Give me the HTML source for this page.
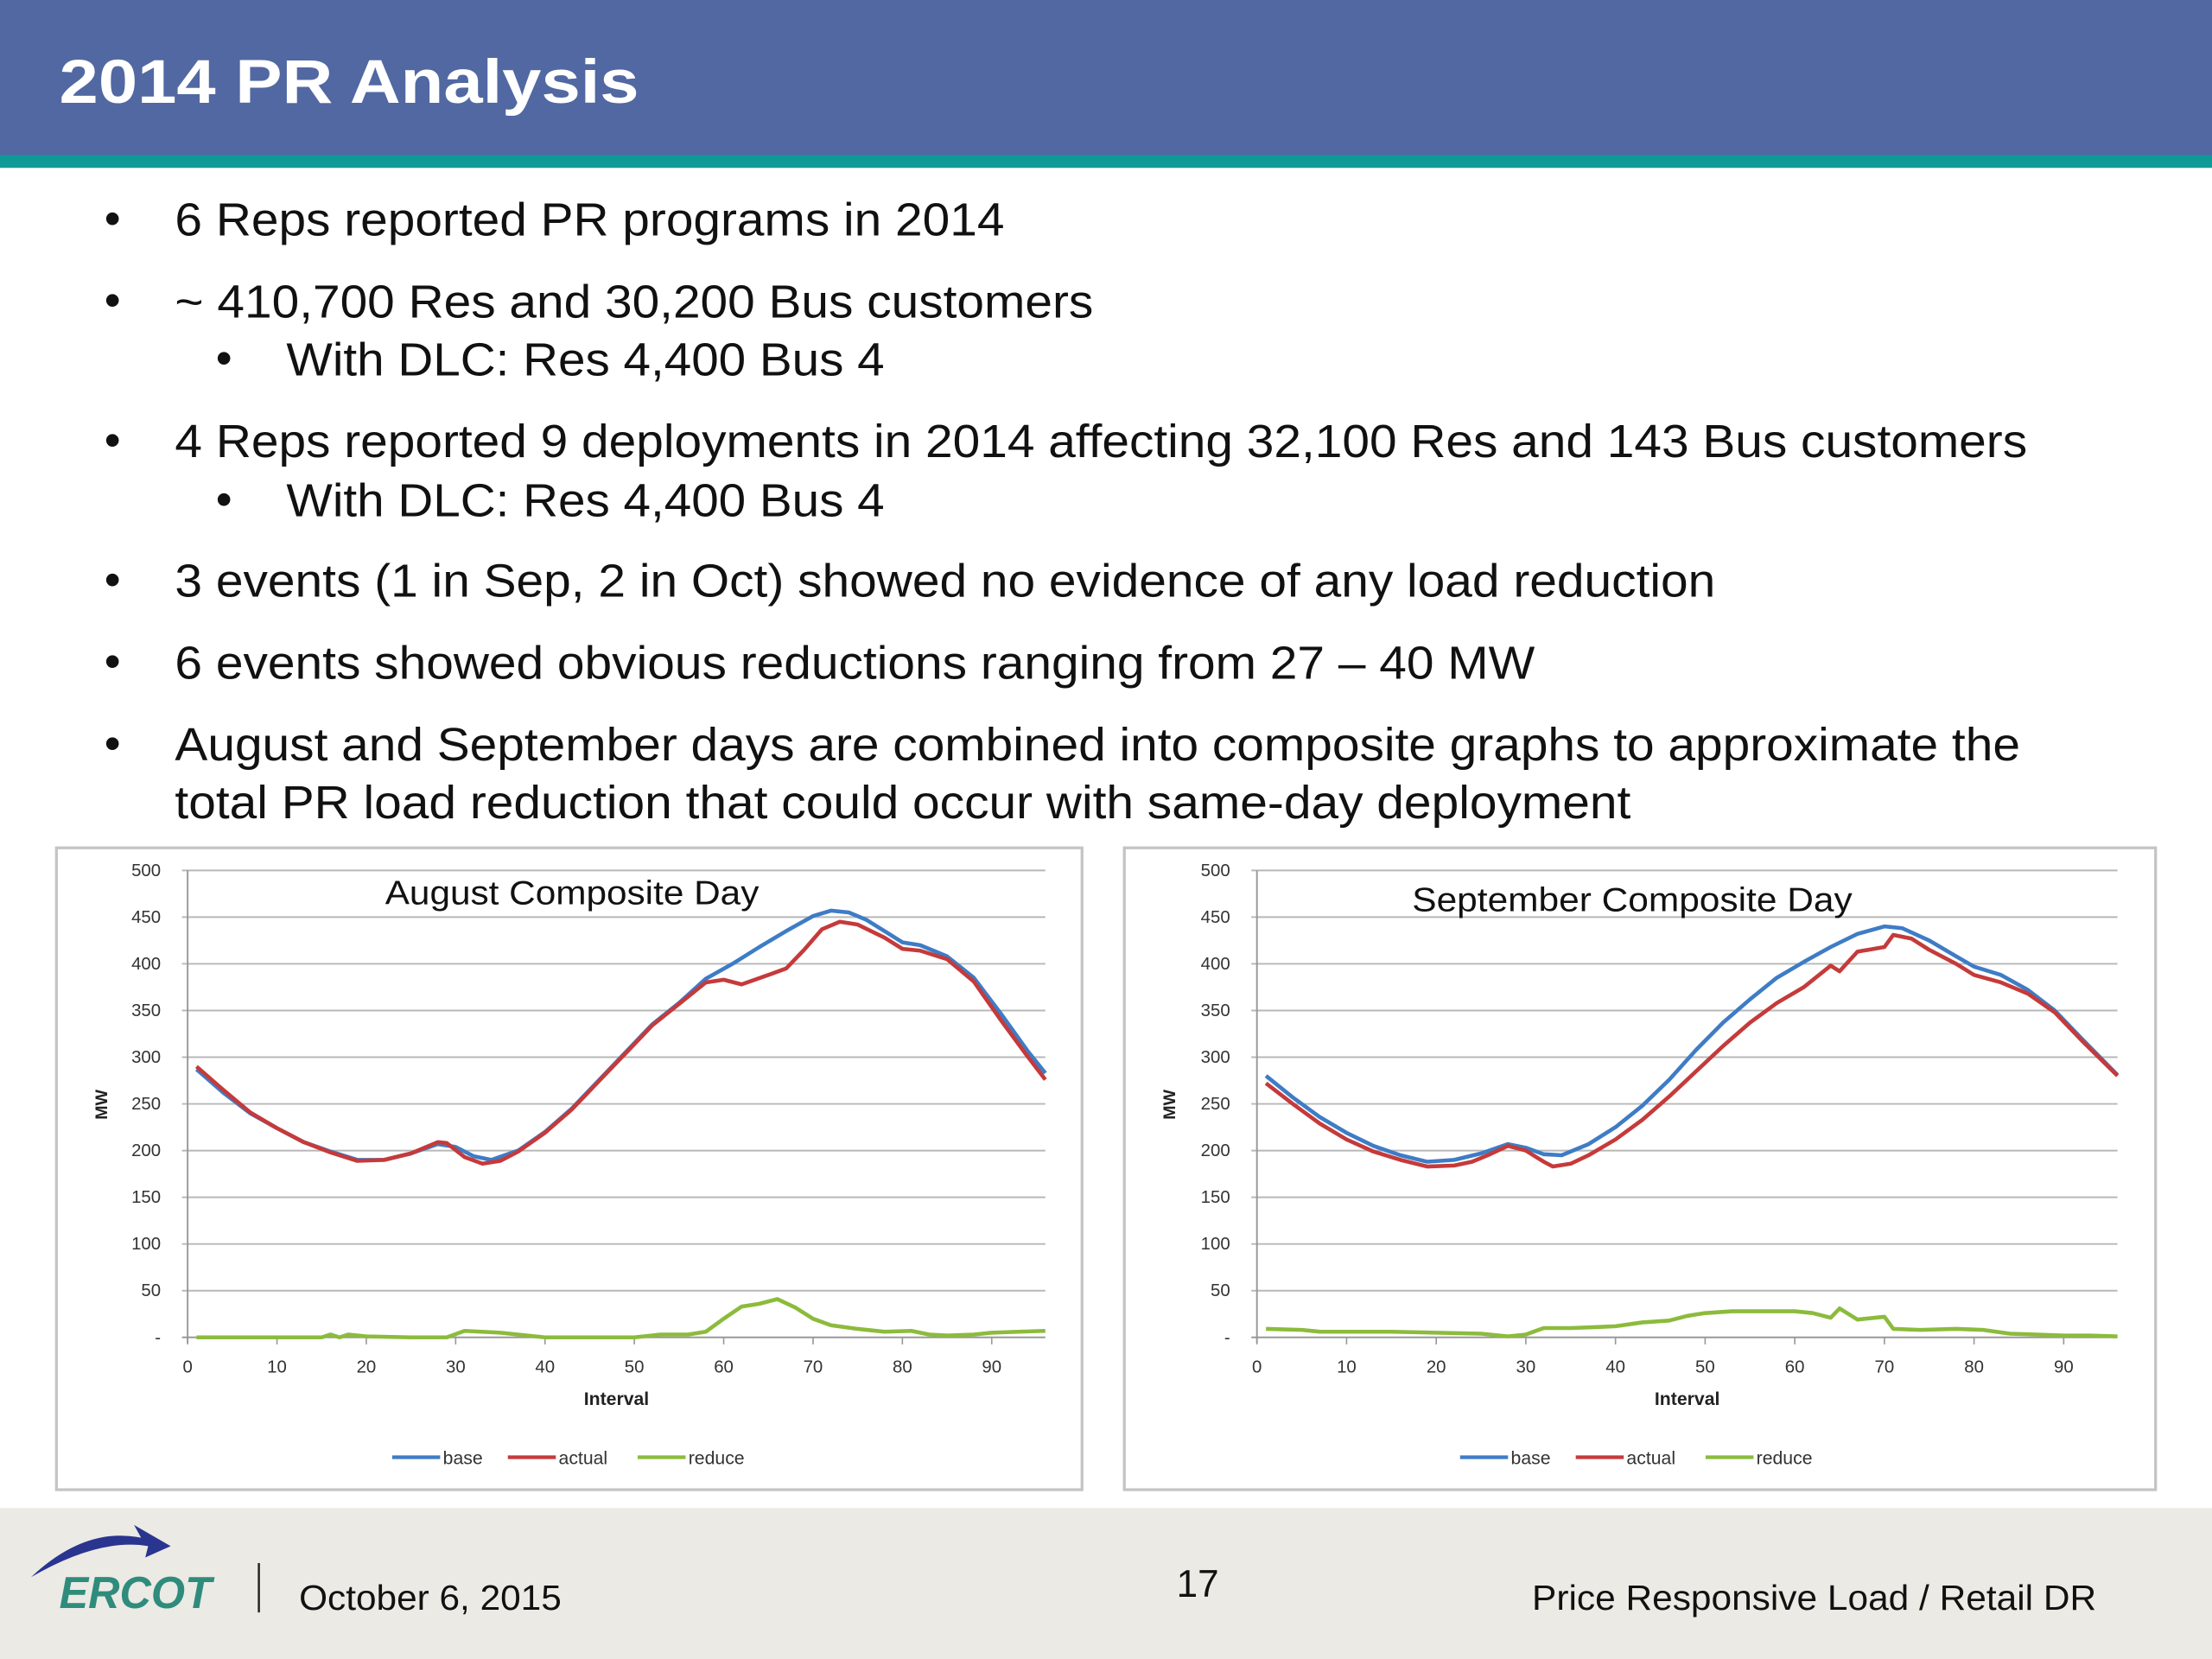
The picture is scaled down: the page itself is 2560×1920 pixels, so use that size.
<!DOCTYPE html>
<html><head><meta charset="utf-8"><style>
html,body{margin:0;padding:0;background:#fff;}
svg{display:block;font-family:"Liberation Sans",Arial,sans-serif;}
</style></head><body>
<svg id="root" width="2560" height="1920" viewBox="0 0 1568 1176" xmlns="http://www.w3.org/2000/svg">
<rect x="0" y="0" width="1568" height="111" fill="#5168a2"/>
<rect x="0" y="110" width="1568" height="9" fill="#0f9a98"/>
<text x="42" y="73" font-size="44" font-weight="bold" fill="#fff" textLength="411" lengthAdjust="spacingAndGlyphs">2014 PR Analysis</text>
<g font-size="33" fill="#111">
<text x="74" y="166">•</text>
<text x="124" y="167" textLength="588" lengthAdjust="spacingAndGlyphs">6 Reps reported PR programs in 2014</text>
<text x="74" y="224">•</text>
<text x="124" y="225" textLength="651" lengthAdjust="spacingAndGlyphs">~ 410,700 Res and 30,200 Bus customers</text>
<text x="153" y="265">•</text>
<text x="203" y="266" textLength="424" lengthAdjust="spacingAndGlyphs">With DLC: Res 4,400 Bus 4</text>
<text x="74" y="323">•</text>
<text x="124" y="324" textLength="1313" lengthAdjust="spacingAndGlyphs">4 Reps reported 9 deployments in 2014 affecting 32,100 Res and 143 Bus customers</text>
<text x="153" y="365">•</text>
<text x="203" y="366" textLength="424" lengthAdjust="spacingAndGlyphs">With DLC: Res 4,400 Bus 4</text>
<text x="74" y="422">•</text>
<text x="124" y="423" textLength="1092" lengthAdjust="spacingAndGlyphs">3 events (1 in Sep, 2 in Oct) showed no evidence of any load reduction</text>
<text x="74" y="480">•</text>
<text x="124" y="481" textLength="964" lengthAdjust="spacingAndGlyphs">6 events showed obvious reductions ranging from 27 – 40 MW</text>
<text x="74" y="538">•</text>
<text x="124" y="539" textLength="1308" lengthAdjust="spacingAndGlyphs">August and September days are combined into composite graphs to approximate the</text>
<text x="124" y="580" textLength="1032" lengthAdjust="spacingAndGlyphs">total PR load reduction that could occur with same-day deployment</text>
</g>
<g id="charts"></g>
<rect x="0" y="1069" width="1568" height="107" fill="#ebeae4"/>
<g>
<path d="M22,1118 Q60,1082 100,1090 L95,1081 L121,1096 L103,1104 L105,1096 Q70,1090 22,1118 Z" fill="#2a3590"/>
<text x="42" y="1140" font-size="32" font-weight="bold" font-style="italic" fill="#2f8c7c" textLength="108" lengthAdjust="spacingAndGlyphs">ERCOT</text>
</g>
<line x1="183.5" y1="1108" x2="183.5" y2="1143" stroke="#222" stroke-width="1.5"/>
<text x="212" y="1141" font-size="25" fill="#111" textLength="186" lengthAdjust="spacingAndGlyphs">October 6, 2015</text>
<text x="834" y="1132" font-size="27" fill="#111">17</text>
<text x="1086" y="1141" font-size="25" fill="#111" textLength="400" lengthAdjust="spacingAndGlyphs">Price Responsive Load / Retail DR</text>
</svg>
<script>
// August composite data (interval -> MW)
const augBaseX = [1,4,7,10,13,16,19,22,25,28,30,32,34,37,40,43,46,49,52,55,58,61,64,67,70,72,74,76,78,80,82,85,88,91,94,96];
const augBaseY = [287,262,240,224,209,199,190,190,197,207,204,194,190,200,220,245,275,305,335,358,384,400,418,435,451,457,455,447,435,423,420,408,385,347,307,283];
const augActX = [1,4,7,10,13,16,19,22,25,28,29,31,33,35,37,40,43,46,49,52,55,58,60,62,65,67,69,71,73,75,78,80,82,85,88,91,94,96];
const augActY = [290,265,241,224,209,198,189,190,197,209,208,193,186,189,199,219,244,274,304,334,357,380,383,378,388,395,415,437,445,442,428,416,414,405,381,340,301,276];
const augRedX = [1,10,15,16,17,18,20,25,29,31,35,38,40,50,53,56,58,60,62,64,66,68,70,72,75,78,81,83,85,88,90,93,96];
const augRedY = [0,0,0,3,0,3,1,0,0,7,5,2,0,0,3,3,6,20,33,36,41,32,20,13,9,6,7,3,2,3,5,6,7];
// September composite data
const sepBaseX = [1,4,7,10,13,16,19,22,25,28,30,32,34,37,40,43,46,49,52,55,58,61,64,67,70,72,75,78,80,83,86,89,92,96];
const sepBaseY = [280,257,236,219,205,195,188,190,197,207,203,196,195,207,225,248,276,308,337,362,385,402,418,432,440,438,425,408,397,388,372,350,320,281];
const sepActX = [1,4,7,10,13,16,19,22,24,26,28,30,32,33,35,37,40,43,46,49,52,55,58,61,64,65,67,70,71,73,75,78,80,83,86,89,92,96];
const sepActY = [272,250,229,212,199,190,183,184,188,196,205,200,188,183,186,195,212,233,258,285,312,337,358,375,398,392,413,418,431,427,415,400,388,380,368,348,318,280];
const sepRedX = [1,5,7,10,15,20,25,28,30,32,35,38,40,43,46,48,50,53,56,60,62,64,65,67,70,71,74,78,81,84,87,90,93,96];
const sepRedY = [9,8,6,6,6,5,4,1,3,10,10,11,12,16,18,23,26,28,28,28,26,21,31,19,22,9,8,9,8,4,3,2,2,1];
const yTicks = [0,50,100,150,200,250,300,350,400,450,500];
const yTickLabels = ["-","50","100","150","200","250","300","350","400","450","500"];
const xTicks = [0,10,20,30,40,50,60,70,80,90];
const seriesNames = ["base","actual","reduce"];
const seriesColors = ["#3e7cc6","#c53a3a","#8cbb3c"];

const NS = "http://www.w3.org/2000/svg";
function mk(tag, attrs, parent){const e=document.createElementNS(NS,tag);for(const k in attrs)e.setAttribute(k,attrs[k]);parent.appendChild(e);return e;}

function drawChart(cfg){
  const g = mk("g",{},document.getElementById("charts"));
  
  
  const box = mk("rect",{x:cfg.bx,y:601,width:cfg.bw,height:455,fill:"#fff",stroke:"#c4c4c4","stroke-width":2},g);
  
  
  const x0=cfg.px0, x1=cfg.px1, yTop=617, yBot=948;
  const sx = v => x0 + (v/96)*(x1-x0);
  const sy = v => yBot - (v/500)*(yBot-yTop);
  yTicks.forEach((t,i)=>{
    const l = mk("line",{x1:x0-4,x2:x1,y1:sy(t),y2:sy(t),stroke:i===0?"#999":"#b8b8b8","stroke-width":1.2},g);
    
    
    const tx = mk("text",{x:x0-19,y:sy(t)+4,"font-size":12.5,"text-anchor":"end",fill:"#333"},g);
    tx.textContent = yTickLabels[i];
    
    
  });
  const ax = mk("line",{x1:x0,x2:x0,y1:yTop,y2:yBot+4,stroke:"#999","stroke-width":1.2},g);
  
  
  xTicks.forEach(t=>{
    const l = mk("line",{x1:sx(t),x2:sx(t),y1:yBot,y2:yBot+5,stroke:"#999","stroke-width":1},g);
    
    
    const tx = mk("text",{x:sx(t),y:973,"font-size":12.5,"text-anchor":"middle",fill:"#333"},g);
    tx.textContent = String(t);
    
    
  });
  const xt = mk("text",{x:(x0+x1)/2,y:996,"font-size":13,"font-weight":"bold","text-anchor":"middle",fill:"#222"},g);
  xt.textContent="Interval";
  
  
  const yt = mk("text",{x:0,y:0,"font-size":12,"font-weight":"bold","text-anchor":"middle",fill:"#222",transform:`translate(${cfg.bx+36},783) rotate(-90)`},g);
  yt.textContent="MW";
  
  
  const tt = mk("text",{x:cfg.tx,y:cfg.ty,"font-size":24,"text-anchor":"start",fill:"#111",textLength:cfg.tw,lengthAdjust:"spacingAndGlyphs"},g);
  tt.textContent=cfg.title;
  
  
  cfg.series.forEach((s,i)=>{
    const d = s[0].map((xv,j)=>(j?"L":"M")+sx(xv).toFixed(1)+","+sy(s[1][j]).toFixed(1)).join(" ");
    const p = mk("path",{d:d,fill:"none",stroke:seriesColors[i],"stroke-width":2.8,"stroke-linejoin":"round"},g);
    
    
  });
  const lx=[cfg.bx+238,cfg.bx+320,cfg.bx+412];
  seriesNames.forEach((n,i)=>{
    const l = mk("line",{x1:lx[i],x2:lx[i]+34,y1:1033,y2:1033,stroke:seriesColors[i],"stroke-width":2.6},g);
    
    
    const tx = mk("text",{x:lx[i]+36,y:1038,"font-size":13,fill:"#333"},g);
    tx.textContent=n;
    
    
  });
}
drawChart({name:"august-chart",bx:40,bw:727,px0:133,px1:741,title:"August Composite Day",tx:273,ty:641,tw:265,
  series:[[augBaseX,augBaseY],[augActX,augActY],[augRedX,augRedY]]});
drawChart({name:"september-chart",bx:797,bw:731,px0:891,px1:1501,title:"September Composite Day",tx:1001,ty:646,tw:312,
  series:[[sepBaseX,sepBaseY],[sepActX,sepActY],[sepRedX,sepRedY]]});
</script>
</body></html>
